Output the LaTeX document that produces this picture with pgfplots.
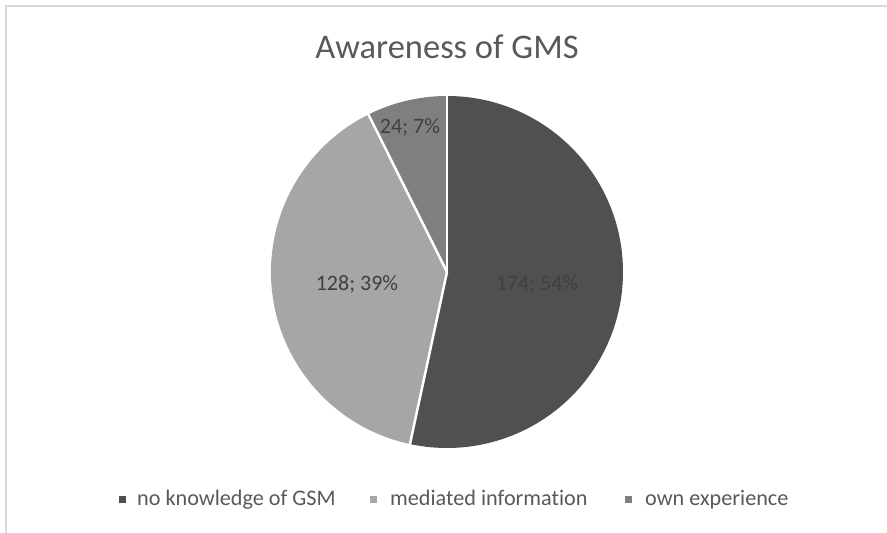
\documentclass[border=0pt]{standalone}
\usepackage{pgfplots}
\usepackage{pgfplotstable}
\pgfplotsset{compat=1.18}
\usepackage{fontspec}
\setmainfont{Carlito}[Ligatures=NoCommon]
\definecolor{sA}{HTML}{505050}
\definecolor{sB}{HTML}{A6A6A6}
\definecolor{sC}{HTML}{7F7F7F}
\definecolor{titlec}{HTML}{595959}
\definecolor{labc}{HTML}{404040}
\definecolor{framec}{HTML}{D9D9D9}
\pgfplotstableread{
name value
{no knowledge of GSM} 174
{mediated information} 128
{own experience} 24
}\datatable
\pgfplotstablegetelem{0}{value}\of\datatable \let\va\pgfplotsretval
\pgfplotstablegetelem{1}{value}\of\datatable \let\vb\pgfplotsretval
\pgfplotstablegetelem{2}{value}\of\datatable \let\vc\pgfplotsretval
\pgfmathsetmacro\tot{\va+\vb+\vc}
\pgfmathsetmacro\aA{90}
\pgfmathsetmacro\aB{90-(\va/\tot)*360}
\pgfmathsetmacro\aC{\aB-(\vb/\tot)*360}
\pgfmathsetmacro\aD{\aC-(\vc/\tot)*360}
\begin{document}
\begin{tikzpicture}
\begin{axis}[
  scale only axis, width=887pt, height=533pt,
  xmin=0, xmax=887, ymin=0, ymax=533,
  hide axis, clip=false, anchor=south west, at={(0,0)}]
\draw[framec, line width=2pt] (axis cs:6,-20) -- (axis cs:6,527) -- (axis cs:900,527);
\fill[sA] (axis cs:447,261) -- ++(\aA:176pt) arc[start angle=\aA, end angle=\aB, radius=176pt] -- cycle;
\fill[sB] (axis cs:447,261) -- ++(\aB:176pt) arc[start angle=\aB, end angle=\aC, radius=176pt] -- cycle;
\fill[sC] (axis cs:447,261) -- ++(\aC:176pt) arc[start angle=\aC, end angle=\aD, radius=176pt] -- cycle;
\draw[white, line width=2.5pt] (axis cs:447,261) -- ++(\aA:177pt);
\draw[white, line width=2.5pt] (axis cs:447,261) -- ++(\aB:177pt);
\draw[white, line width=2.5pt] (axis cs:447,261) -- ++(\aC:177pt);
\node[titlec, font=\fontsize{34.5}{40}\selectfont] at (axis cs:447,486) {Awareness of GMS};
\node[labc, font=\fontsize{22}{26}\selectfont] at (axis cs:537,249) {\va; 54\%};
\node[labc, font=\fontsize{22}{26}\selectfont] at (axis cs:357,249) {\vb; 39\%};
\node[labc, font=\fontsize{22}{26}\selectfont] at (axis cs:410,406) {\vc; 7\%};
\fill[sA] (axis cs:118.5,29.5) rectangle (axis cs:125.5,36.5);
\fill[sB] (axis cs:369.5,29.5) rectangle (axis cs:376.5,36.5);
\fill[sC] (axis cs:624.5,29.5) rectangle (axis cs:631.5,36.5);
\node[titlec, anchor=base west, inner sep=0pt, font=\fontsize{22.2}{26}\selectfont] at (axis cs:137,27) {no knowledge of GSM};
\node[titlec, anchor=base west, inner sep=0pt, font=\fontsize{22.2}{26}\selectfont] at (axis cs:390,27) {mediated information};
\node[titlec, anchor=base west, inner sep=0pt, font=\fontsize{22.2}{26}\selectfont] at (axis cs:645,27) {own experience};
\end{axis}
\pgfresetboundingbox
\path (0,0) rectangle (887pt,533pt);
\end{tikzpicture}
\end{document}
